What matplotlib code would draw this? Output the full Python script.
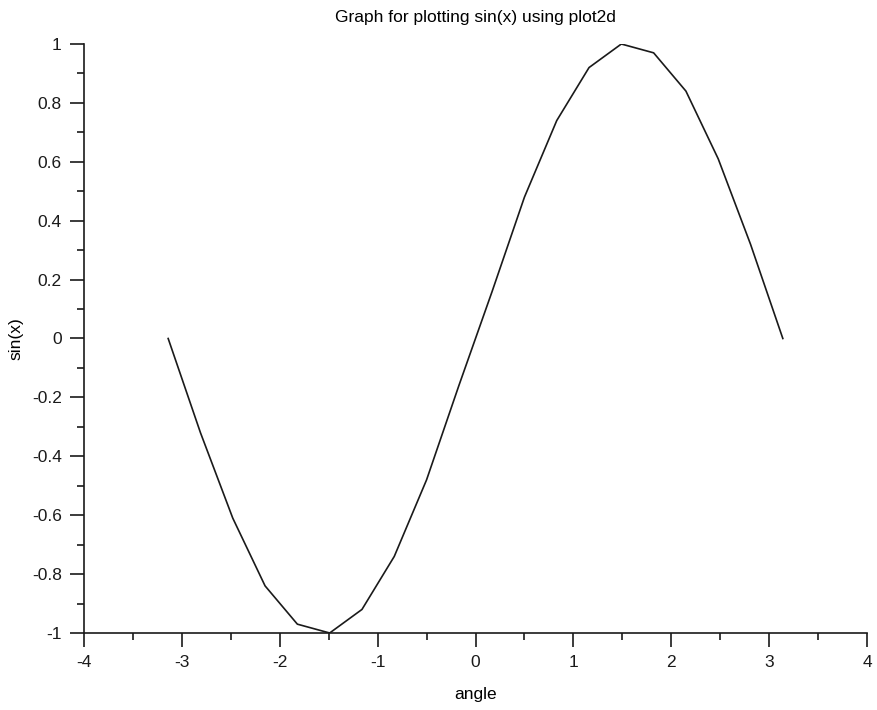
import numpy as np
import matplotlib.pyplot as plt
from matplotlib.ticker import MultipleLocator, FuncFormatter

plt.rcParams['font.family'] = ['Liberation Sans', 'DejaVu Sans']
plt.rcParams['axes.unicode_minus'] = False

# points
angle = [-3.14, -2.81, -2.48, -2.15, -1.82, -1.49, -1.16, -0.83, -0.50, -0.17,
         0.17, 0.50, 0.83, 1.16, 1.49, 1.82, 2.15, 2.48, 2.81, 3.14]
sinx = [0.0, -0.32, -0.61, -0.84, -0.97, -1.0, -0.92, -0.74, -0.48, -0.16,
        0.16, 0.48, 0.74, 0.92, 1.0, 0.97, 0.84, 0.61, 0.32, 0.0]

fig = plt.figure(figsize=(8.77, 7.10), dpi=100)
ax = fig.add_axes([84/877, 1-633/710, (867-84)/877, (633-44)/710])

ax.plot(angle, sinx, color='#1a1a1a', lw=1.2)

ax.set_xlim(-4, 4)
ax.set_ylim(-1, 1)
ax.xaxis.set_major_locator(MultipleLocator(1))
ax.xaxis.set_minor_locator(MultipleLocator(0.5))
ax.yaxis.set_major_locator(MultipleLocator(0.2))
ax.yaxis.set_minor_locator(MultipleLocator(0.1))
fmt = FuncFormatter(lambda v, p: '%g' % round(v, 2))
ax.xaxis.set_major_formatter(fmt)
ax.yaxis.set_major_formatter(fmt)

for s in ['top', 'right']:
    ax.spines[s].set_visible(False)
for s in ['left', 'bottom']:
    ax.spines[s].set_linewidth(1.2)
    ax.spines[s].set_color('#1a1a1a')

ax.tick_params(which='major', length=10, width=1.2, labelsize=12.5, pad=6, colors='#1a1a1a')
ax.tick_params(which='minor', length=5, width=1.2, colors='#1a1a1a')

ax.set_title('Graph for plotting sin(x) using plot2d', fontsize=12.5, pad=16)
ax.set_xlabel('angle', fontsize=12.5, labelpad=12)
ax.set_ylabel('sin(x)', fontsize=12.5)
ax.yaxis.set_label_coords((23 - 84) / 783, 0.5)

fig.savefig('out.png', dpi=100)
